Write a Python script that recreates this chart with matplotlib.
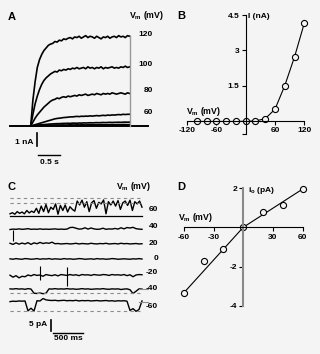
import numpy as np
import matplotlib.pyplot as plt

plt.rcParams['font.family'] = ['Liberation Sans', 'DejaVu Sans']
plt.rcParams['font.weight'] = 'bold'
plt.rcParams['mathtext.default'] = 'regular'

W, H = 320, 354
BG = '#f4f4f4'

# ---- A: whole-cell currents (nA), sampled every 50 ms of the 2.25 s step
a_time = np.arange(0, 2.26, 0.05)
a_i120 = [0, 2.0, 3.4, 4.5, 5.1, 5.5, 5.8, 6.0, 6.2, 6.3,
          6.35, 6.5, 6.45, 6.6, 6.55, 6.7, 6.65, 6.75, 6.8, 6.7,
          6.85, 6.8, 6.9, 6.75, 6.85, 6.95, 6.8, 6.9, 6.85, 6.75,
          6.9, 6.8, 6.7, 6.85, 6.8, 6.9, 6.75, 6.85, 6.9, 6.8,
          6.95, 6.85, 6.9, 6.8, 6.95, 6.9]
a_i100 = [0, 0.9, 1.7, 2.3, 2.8, 3.2, 3.5, 3.7, 3.85, 4.0,
          4.1, 4.2, 4.15, 4.3, 4.25, 4.35, 4.3, 4.4, 4.35, 4.45,
          4.4, 4.5, 4.4, 4.45, 4.5, 4.4, 4.55, 4.45, 4.5, 4.4,
          4.5, 4.45, 4.55, 4.4, 4.5, 4.45, 4.5, 4.55, 4.45, 4.5,
          4.45, 4.55, 4.5, 4.6, 4.5, 4.55]
a_i80 = [0, 0.3, 0.6, 0.85, 1.05, 1.25, 1.45, 1.6, 1.75, 1.9,
         2.0, 2.05, 2.15, 2.1, 2.2, 2.25, 2.2, 2.3, 2.25, 2.3,
         2.35, 2.3, 2.4, 2.35, 2.4, 2.45, 2.35, 2.4, 2.45, 2.4,
         2.5, 2.45, 2.4, 2.5, 2.45, 2.5, 2.45, 2.55, 2.5, 2.45,
         2.5, 2.55, 2.5, 2.45, 2.55, 2.5]
a_i60 = [0, 0.05, 0.1, 0.15, 0.2, 0.25, 0.3, 0.35, 0.4, 0.45,
         0.5, 0.55, 0.58, 0.6, 0.62, 0.65, 0.66, 0.68, 0.7, 0.7,
         0.72, 0.74, 0.72, 0.75, 0.74, 0.76, 0.75, 0.78, 0.76, 0.78,
         0.8, 0.78, 0.8, 0.82, 0.8, 0.84, 0.82, 0.85, 0.84, 0.86,
         0.88, 0.86, 0.9, 0.88, 0.9, 0.9]
a_i40 = [0, 0.02, 0.04, 0.06, 0.08, 0.1, 0.11, 0.12, 0.14, 0.15,
         0.16, 0.17, 0.18, 0.18, 0.19, 0.2, 0.2, 0.21, 0.2, 0.22,
         0.22, 0.21, 0.23, 0.22, 0.24, 0.23, 0.24, 0.25, 0.24, 0.25,
         0.26, 0.25, 0.26, 0.27, 0.26, 0.27, 0.28, 0.27, 0.28, 0.28,
         0.29, 0.28, 0.29, 0.3, 0.29, 0.3]
a_i20 = [0, 0.01, 0.02, 0.03, 0.04, 0.05, 0.05, 0.06, 0.06, 0.07,
         0.07, 0.07, 0.08, 0.07, 0.08, 0.08, 0.07, 0.08, 0.09, 0.08,
         0.08, 0.09, 0.08, 0.09, 0.09, 0.08, 0.09, 0.1, 0.09, 0.09,
         0.1, 0.09, 0.1, 0.1, 0.09, 0.1, 0.1, 0.11, 0.1, 0.1,
         0.11, 0.1, 0.11, 0.11, 0.1, 0.11]
a_traces = [a_i120, a_i100, a_i80, a_i60, a_i40, a_i20]
a_labels = ['120', '100', '80', '60']

# ---- B: steady-state I-V
b_vm = [-100, -80, -60, -40, -20, 0, 20, 40, 60, 80, 100, 120]
b_i = [-0.02, -0.02, -0.02, -0.02, -0.02, -0.01, 0.0, 0.1, 0.5, 1.5, 2.72, 4.15]

# ---- C: single-channel records (pA, relative to closed level)
c_time = np.arange(0, 2201, 50)
c_time60 = np.arange(0, 2201, 40)
c_60 = [1.0, 1.5, 0.8, 2.0, 1.2, 1.8, 1.0, 2.5, 1.4, 2.2, 1.6,
        3.5, 1.2, 4.5, 2.0, 5.2, 1.5, 4.0, 3.0, 5.5, 0.8, 4.8, 2.5, 5.0, 1.8, 4.2, 3.0, 2.2,
        6.8, 5.0, 7.2, 4.0, 6.5, 2.0, 6.0, 7.0, 3.5, 6.2, 5.5, 7.3, 1.0, 6.5,
        5.0, 6.8, 4.5, 7.0, 3.0, 6.0, 6.8, 4.8, 7.2, 2.5, 6.5, 5.5, 6.8, 4.0]
c_40 = [0, 0.2, 0.1, 0.3, 0.1, 0.2, 0.4, 0.1, 0.2, 0.1,
        0.3, 0.1, 0.2, 0.1, 0.2, 0.3, 0.1, 0.2, 0.1, 0.2,
        0.9, 1.0, 0.6, 0.2, 0.3, 0.8, 0.2, 0.7, 0.3, 0.1,
        0.2, 0.6, 0.1, 0.3, 0.2, 0.5, 0.2, 0.8, 0.3, 0.9,
        0.7, 1.0, 0.4, 0.2, 0.1]
c_20 = [0.3, -0.2, 0.5, -0.1, 0.4, 0.0, 0.6, -0.2, 0.5, 0.1,
        0.7, 0.2, 0.5, 0.3, 0.8, 0.1, 0.2, 0.0, 0.1, 0.2,
        0.0, 0.1, 0.3, 0.0, 0.2, 0.1, 0.0, 0.3, 0.1, 0.0,
        0.2, 0.1, 0.3, 0.0, 0.1, 0.2, 0.0, 0.3, 0.1, 0.2,
        0.0, 0.1, 0.2, 0.0, 0.1]
c_0 = [0.1, -0.1, 0.2, 0.0, -0.1, 0.2, 0.1, -0.1, 0.0, 0.2,
       -0.1, 0.1, 0.0, 0.2, -0.1, 0.1, 0.0, -0.1, 0.2, 0.0,
       0.1, -0.1, 0.0, 0.2, 0.1, -0.1, 0.0, 0.1, -0.1, 0.2,
       0.0, 0.1, -0.1, 0.0, 0.2, 0.1, -0.1, 0.0, 0.1, 0.0,
       -0.1, 0.1, 0.0, 0.2, 0.0]
c_m20 = [-0.3, -1.2, -0.5, -1.5, -0.8, -1.0, -0.2, -0.6, 0.0, -0.4,
         -0.2, -0.8, 0.0, -0.3, -0.5, -0.1, -0.6, 0.0, -0.2, -0.4,
         0.0, -0.3, -0.1, -0.5, 0.0, -0.2, -0.1, -0.4, 0.0, -0.2,
         -0.3, 0.0, -0.1, -0.4, 0.0, -0.2, -0.1, -0.3, 0.0, -0.5,
         -0.1, -1.0, -0.2, 0.0, -0.1]
c_m40 = [0.1, 0.0, 0.2, 0.0, 0.1, -0.1, 0.2, 0.0, -1.9, -2.0,
         -1.8, -2.1, -1.9, 0.1, 0.0, 0.2, 0.0, 0.1, 0.0, 0.2,
         0.0, 0.1, -0.1, 0.0, 0.2, 0.0, 0.1, -0.1, 0.0, 0.1,
         0.0, 0.2, 0.0, -0.1, 0.1, 0.0, 0.1, -0.2, 0.0, 0.1,
         -0.3, -2.0, -1.0, 0.1, 0.0]
c_m60 = [0.0, 0.2, 0.1, 0.3, 0.2, 0.3, -4.2, -3.0, -4.3, 0.4,
         0.3, 1.4, 0.8, 0.6, 0.5, 0.6, 0.4, 0.5, 0.6, 0.4,
         0.5, 0.4, 0.6, 0.3, 0.5, 0.4, 0.5, 0.3, 0.4, 0.5,
         0.3, 0.4, 0.5, 0.3, 0.4, 0.2, 0.4, 0.3, 0.4, 0.2,
         -4.0, -3.2, -4.4, -3.6, 0.3]
c_labels = ['60', '40', '20', '0', '-20', '-40', '-60']
# brief artefacts: (trace index, time ms, low pA, high pA)
c_spikes = [(1, 55, -5.3, 0.0), (4, 500, -2.3, 4.1), (4, 945, -5.0, 3.6)]
# open levels drawn as dashed lines: (trace index, pA)
c_levels = [(0, 8.2), (0, 6.0), (5, -1.7), (6, -4.3)]

# ---- D: single-channel I-V
d_vm = [-60, -40, -20, 0, 20, 40, 60]
d_i = [-3.34, -1.72, -1.12, 0.0, 0.79, 1.15, 1.95]
d_fit_vm = [-60, 0, 60]
d_fit_i = [-3.34, 0.0, 1.95]

fig = plt.figure(figsize=(W / 100, H / 100), dpi=100, facecolor=BG)


def px_axes(x0, y0, x1, y1):
    ax = fig.add_axes([x0 / W, 1 - y1 / H, (x1 - x0) / W, (y1 - y0) / H])
    ax.set_facecolor('none')
    return ax


def label(x, y, s, size=6, ha='center'):
    fig.text(x / W, 1 - y / H, s, fontsize=size, ha=ha, va='center',
             fontweight='bold')


VM = r'V$_\mathregular{m}$ (mV)'

# ---------- panel A
axA = px_axes(0, 0, 160, 170)
axA.set_xlim(-0.698, 2.939)
axA.set_ylim(-3.385, 9.69)
axA.axis('off')
axA.plot([-0.47, 2.67], [0, 0], color='k', lw=1.4)
for tr in a_traces:
    axA.plot(a_time, tr, color='k', lw=1.2)
axA.plot([a_time[-1], a_time[-1]], [0, a_i120[-1]], color='#999999', lw=1)
axA.plot([0.136, 0.136], [-0.56, -1.56], color='k', lw=1.2)
axA.plot([0.173, 0.673], [-2.23, -2.23], color='k', lw=1.0)

label(12, 17, 'A', size=8)
label(147, 16, VM, size=6.3)
for s, y in zip(a_labels, [35, 64, 90, 112]):
    label(153, y, s, ha='right')
label(33, 142, '1 nA', ha='right')
label(49, 163, '0.5 s')

# ---------- panel B
axB = px_axes(160, 0, 320, 170)
axB.set_xlim(-175.5, 152.2)
axB.set_ylim(-2.081, 5.138)
for side in ['top', 'right']:
    axB.spines[side].set_visible(False)
axB.spines['left'].set_position(('data', 0))
axB.spines['bottom'].set_position(('data', 0))
axB.spines['left'].set_bounds(-0.55, 4.5)
axB.spines['bottom'].set_bounds(-120, 120)
for sp in axB.spines.values():
    sp.set_linewidth(0.8)
axB.set_xticks([-120, -60, 60, 120], labels=['-120', '-60', '60', '120'])
axB.set_yticks([-0.55, 1.5, 3, 4.5], labels=['', '1.5', '3', '4.5'])
axB.tick_params(direction='out', length=3, width=0.8, labelsize=6, pad=1.5)
axB.plot(b_vm, b_i, '-o', color='k', lw=0.8, ms=4.4, mfc=BG, mec='k',
         mew=0.8, clip_on=False)
label(181.5, 16, 'B', size=8)
label(248, 16, 'I (nA)', ha='left')
label(203.5, 111, VM, size=6.3)

# ---------- panel C
axC = px_axes(0, 170, 160, 354)
axC.set_xlim(-166.7, 2500)
axC.set_ylim(-83.6, 0)
axC.axis('off')
c_offsets = [-20.9, -27.05, -33.6, -40.45, -47.5, -54.1, -59.8]
c_traces = [c_60, c_40, c_20, c_0, c_m20, c_m40, c_m60]
for k, (tr, off) in enumerate(zip(c_traces, c_offsets)):
    t = c_time60 if k == 0 else c_time
    axC.plot(t, np.array(tr) + off, color='k', lw=1.0)
axC.plot([0, 2200], [c_offsets[0]] * 2, color='k', lw=0.9)
for k, lev in c_levels:
    axC.plot([0, 2200], [c_offsets[k] + lev] * 2, color='#8c8c8c', lw=0.8,
             ls=(0, (3, 3)))
for k in [5, 6]:
    axC.plot([2150, 2300], [c_offsets[k]] * 2, color='#8c8c8c', lw=0.8)
for k, t, lo, hi in c_spikes:
    axC.vlines(t, c_offsets[k] + lo, c_offsets[k] + hi, color='k', lw=0.8)
axC.plot([678, 678], [-68.2, -73.2], color='k', lw=1.2)
axC.plot([722, 1222], [-73.95, -73.95], color='k', lw=1.0)

label(12, 187, 'C', size=8)
label(134, 186, VM, size=6.3)
for s, y in zip(c_labels, [209, 226.7, 243.3, 258, 273, 289, 306.7]):
    label(158, y, s, ha='right')
label(47, 325, '5 pA', ha='right')
label(68.5, 339, '500 ms')

# ---------- panel D
axD = px_axes(160, 170, 320, 354)
axD.set_xlim(-84.1, 77.5)
axD.set_ylim(-6.46, 2.92)
for side in ['top', 'right']:
    axD.spines[side].set_visible(False)
axD.spines['left'].set_position(('data', 0))
axD.spines['bottom'].set_position(('data', 0))
axD.spines['left'].set_bounds(-4, 2)
axD.spines['bottom'].set_bounds(-60, 60)
axD.spines['left'].set_color('#8a8a8a')
axD.spines['left'].set_linewidth(1.5)
axD.spines['bottom'].set_linewidth(0.8)
axD.set_xticks([-60, -30, 30, 60], labels=['-60', '-30', '30', '60'])
axD.set_yticks([-4, -2, 2], labels=['-4', '-2', '2'])
axD.tick_params(direction='out', length=3, width=0.8, labelsize=6, pad=1.5)
axD.plot(d_fit_vm, d_fit_i, color='k', lw=0.8)
axD.plot(d_vm, d_i, 'o', ms=4.4, mfc=BG, mec='k', mew=0.8, clip_on=False)
label(181, 187, 'D', size=8)
label(248, 190, r'i$_\mathregular{o}$ (pA)', ha='left')
label(195.5, 218, VM, size=6.3)

fig.savefig('out.png', dpi=100, facecolor=BG)
